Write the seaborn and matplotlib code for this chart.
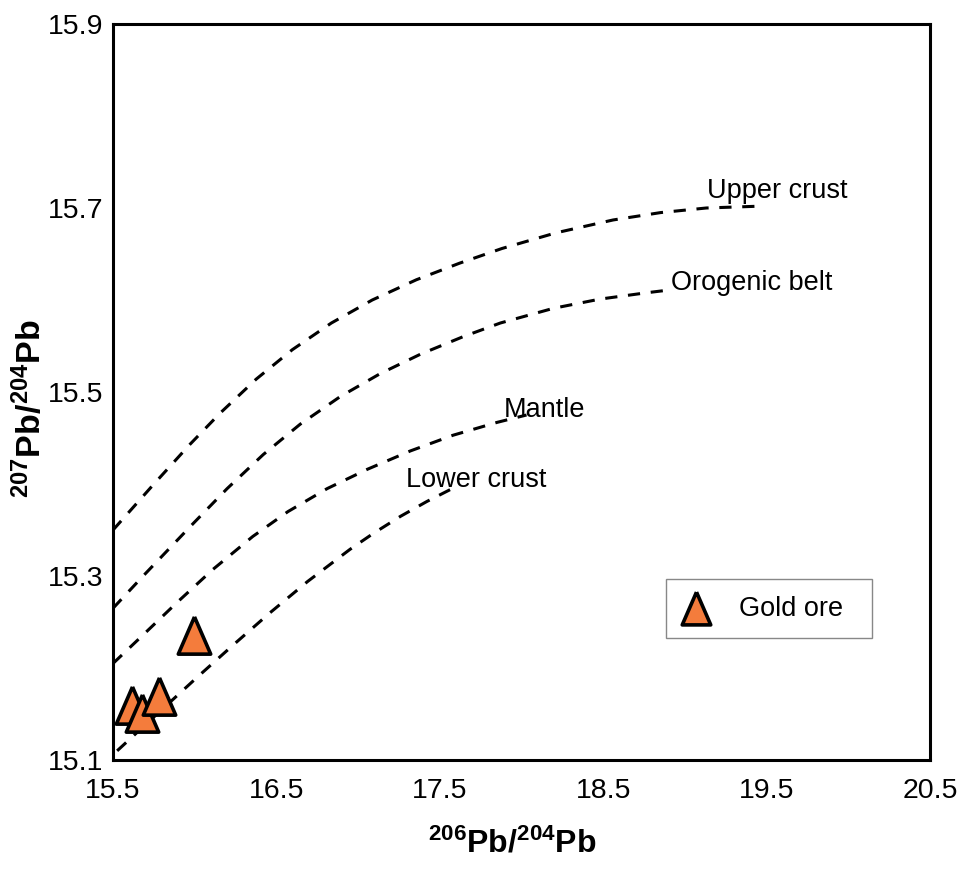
import numpy as np
import matplotlib
matplotlib.use("Agg")
import matplotlib.pyplot as plt
import seaborn as sns

# ── Data ──────────────────────────────────────────────────────────────────────
upper_x = [15.50, 15.745, 15.97, 16.155, 16.376, 16.597, 16.836, 17.086, 17.356,
           17.62, 17.88, 18.21, 18.56, 18.85, 19.13, 19.46]
upper_y = [15.350, 15.399, 15.443, 15.477, 15.514, 15.546, 15.575, 15.600, 15.622,
           15.640, 15.656, 15.673, 15.687, 15.695, 15.700, 15.702]

orogen_x = [15.50, 15.684, 15.99, 16.198, 16.419, 16.645, 16.89, 17.135, 17.38,
            17.64, 17.87, 18.195, 18.48, 18.77, 18.91]
orogen_y = [15.265, 15.300, 15.357, 15.395, 15.432, 15.465, 15.495, 15.520, 15.541,
            15.560, 15.575, 15.591, 15.601, 15.608, 15.611]

mantle_x = [15.50, 15.684, 15.89, 16.11, 16.355, 16.57, 16.81, 17.056, 17.32,
            17.58, 17.85, 18.03]
mantle_y = [15.205, 15.236, 15.271, 15.307, 15.343, 15.370, 15.395, 15.416, 15.436,
            15.453, 15.467, 15.475]

lower_x = [15.525, 15.708, 16.015, 16.235, 16.46, 16.69, 16.95, 17.09, 17.26,
           17.42, 17.575]
lower_y = [15.110, 15.140, 15.190, 15.225, 15.260, 15.294, 15.329, 15.346, 15.365,
           15.381, 15.395]

curve_names = ["Upper crust", "Orogenic belt", "Mantle", "Lower crust"]
label_x = [19.137, 18.913, 17.888, 17.29]
label_y = [15.711, 15.611, 15.473, 15.397]

ore_x = [15.618, 15.68, 15.78, 15.996]
ore_y = [15.160, 15.151, 15.170, 15.236]

x_ticks = [15.5, 16.5, 17.5, 18.5, 19.5, 20.5]
y_ticks = [15.1, 15.3, 15.5, 15.7, 15.9]

# ── Style ─────────────────────────────────────────────────────────────────────
sns.set_style("white")
plt.rcParams["font.family"] = ["Liberation Sans", "DejaVu Sans"]
plt.rcParams["mathtext.default"] = "regular"
for key in ["text.color", "axes.labelcolor", "xtick.color", "ytick.color"]:
    plt.rcParams[key] = "black"

ORANGE = "#F47C3C"
tri = [(0, 1), (-0.87, -1), (0.87, -1), (0, 1)]

fig = plt.figure(figsize=(9.58, 8.69), dpi=100)
ax = fig.add_axes([0.118, 0.1254, 0.853, 0.847])

# reference curves
curves = [(upper_x, upper_y), (orogen_x, orogen_y),
          (mantle_x, mantle_y), (lower_x, lower_y)]
for cx, cy in curves:
    sns.lineplot(x=cx, y=cy, sort=False, estimator=None, ax=ax,
                 color="black", linewidth=2.2, linestyle=(0, (4, 3.5)))

for name, tx, ty in zip(curve_names, label_x, label_y):
    ax.text(tx, ty, name, fontsize=19.5, ha="left", va="baseline")

# samples
sns.scatterplot(x=ore_x, y=ore_y, marker=tri, s=720, color=ORANGE,
                edgecolor="black", linewidth=2.6, label="Gold ore",
                ax=ax, zorder=5)

leg = ax.legend(loc="lower left", bbox_to_anchor=(0.677, 0.166, 0.252, 0.081),
                mode="expand", fontsize=19.5, frameon=True, fancybox=False,
                framealpha=1, edgecolor="#888888", borderpad=0.6,
                handletextpad=1.1, handlelength=1.0, markerscale=0.88,
                borderaxespad=0)
leg.get_frame().set_linewidth(1.0)

# axes
ax.set_xlim(15.5, 20.5)
ax.set_ylim(15.1, 15.9)
ax.set_xticks(x_ticks)
ax.set_yticks(y_ticks)
ax.set_xticklabels([f"{v:.1f}" for v in x_ticks])
ax.set_yticklabels([f"{v:.1f}" for v in y_ticks])
ax.tick_params(direction="in", length=10, width=2.2, labelsize=20.5)
ax.tick_params(axis="x", pad=13)
ax.tick_params(axis="y", pad=7)
for sp in ax.spines.values():
    sp.set_linewidth(2.2)
    sp.set_color("black")
    sp.set_visible(True)

ax.set_xlabel(r"$^{206}$Pb/$^{204}$Pb", fontsize=23, fontweight="bold")
ax.set_ylabel(r"$^{207}$Pb/$^{204}$Pb", fontsize=24.5, fontweight="bold")
ax.xaxis.set_label_coords(0.488, -0.093)
ax.yaxis.set_label_coords(-0.079, 0.478)

fig.savefig("out.png", dpi=100)
